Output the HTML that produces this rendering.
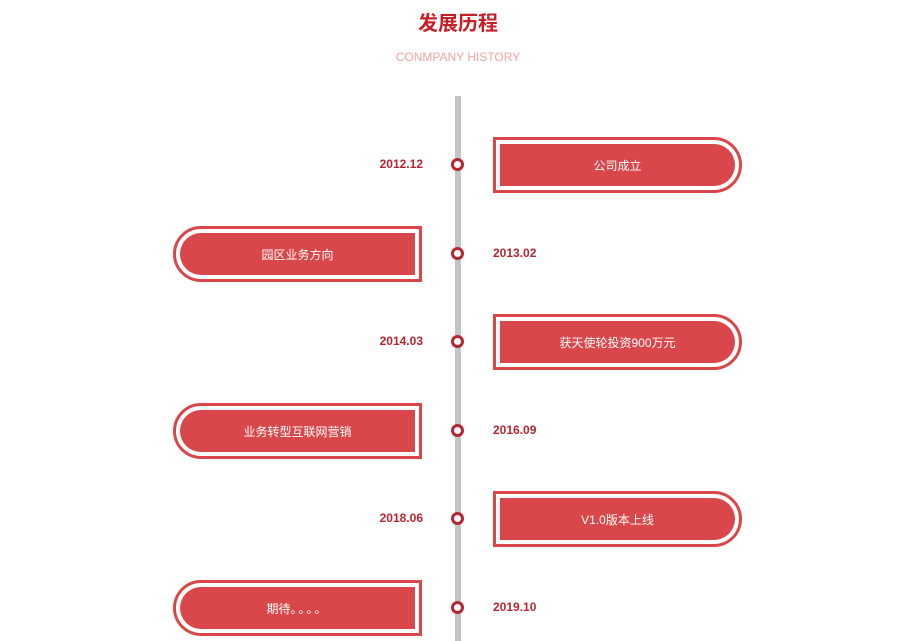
<!DOCTYPE html>
<html><head><meta charset="utf-8"><style>
body{margin:0;width:900px;height:641px;background:#fff;position:relative;overflow:hidden;font-family:"Liberation Sans","Noto Sans CJK SC",sans-serif}
.a{position:absolute}
.t{left:0;width:916px;text-align:center}
.line{left:455px;top:96px;width:6px;height:545px;background:#c4c4c4}
.dot{width:7px;height:7px;border:3px solid #b52630;border-radius:50%;background:#fff}
.date{font-size:12px;font-weight:bold;color:#b52630;line-height:14px}
.box{border:3px solid #d9474a;box-sizing:border-box;width:249px;height:56px;background:#fff}
.in{position:absolute;top:4px;bottom:4px;background:#d9474a;color:#fff;font-size:12px;display:flex;align-items:center;justify-content:center}
.R{border-radius:0 28px 28px 0}.R .in{left:4px;right:4px;border-radius:0 22px 22px 0}
.L{border-radius:28px 0 0 28px}.L .in{left:4px;right:4px;border-radius:22px 0 0 22px}
</style></head><body>
<div class="a t" style="top:7px;font-size:20px;font-weight:bold;color:#c81e25">发展历程</div>
<div class="a t" style="top:50px;font-size:12px;color:#eda3a3">CONMPANY HISTORY</div>
<div class="a line"></div>

<div class="a dot" style="left:451px;top:158px"></div>
<div class="a date" style="left:360px;width:63px;text-align:right;top:157px">2012.12</div>
<div class="a box R" style="left:493px;top:137px"><div class="in">公司成立</div></div>

<div class="a dot" style="left:451px;top:247px"></div>
<div class="a date" style="left:493px;top:246px">2013.02</div>
<div class="a box L" style="left:173px;top:226px"><div class="in">园区业务方向</div></div>

<div class="a dot" style="left:451px;top:335px"></div>
<div class="a date" style="left:360px;width:63px;text-align:right;top:334px">2014.03</div>
<div class="a box R" style="left:493px;top:314px"><div class="in">获天使轮投资900万元</div></div>

<div class="a dot" style="left:451px;top:424px"></div>
<div class="a date" style="left:493px;top:423px">2016.09</div>
<div class="a box L" style="left:173px;top:403px"><div class="in">业务转型互联网营销</div></div>

<div class="a dot" style="left:451px;top:512px"></div>
<div class="a date" style="left:360px;width:63px;text-align:right;top:511px">2018.06</div>
<div class="a box R" style="left:493px;top:491px"><div class="in">V1.0版本上线</div></div>

<div class="a dot" style="left:451px;top:601px"></div>
<div class="a date" style="left:493px;top:600px">2019.10</div>
<div class="a box L" style="left:173px;top:580px"><div class="in">期待<span style="letter-spacing:2px">。。。。</span></div></div>
</body></html>
